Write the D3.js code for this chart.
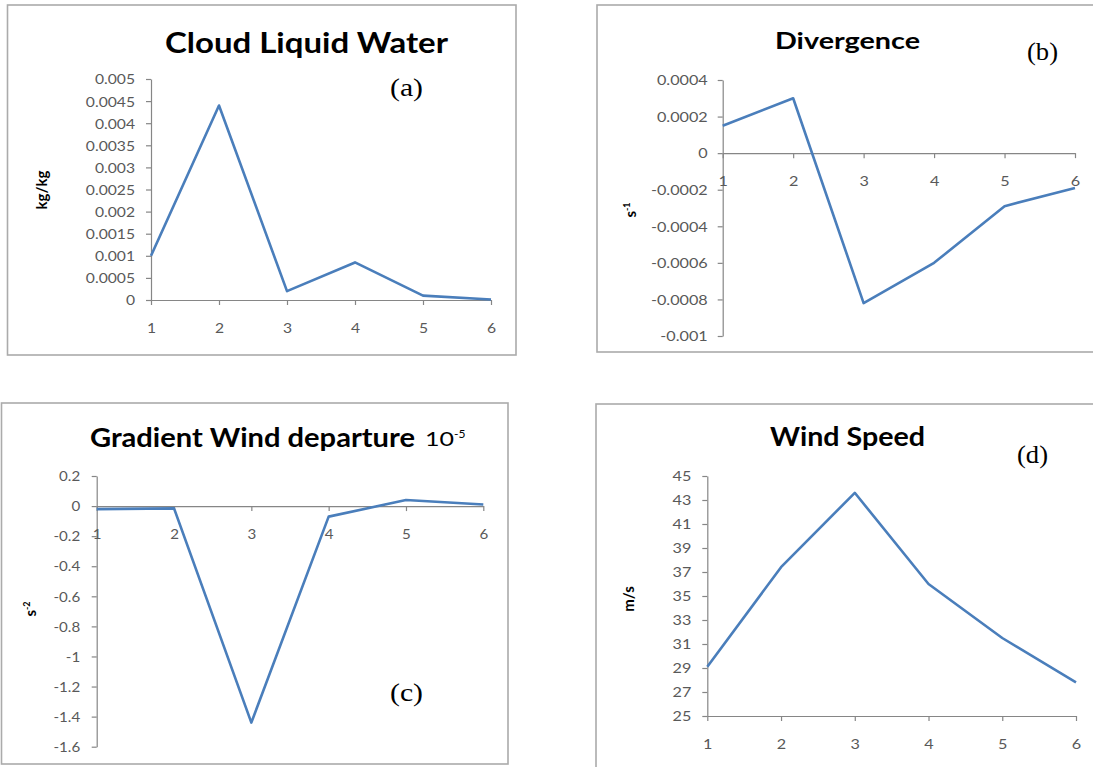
<!DOCTYPE html>
<html>
<head>
<meta charset="utf-8">
<script src="https://cdn.jsdelivr.net/npm/d3@7"></script>
<style>
  html, body { margin: 0; padding: 0; background: #fff; }
  svg { display: block; }
  .tick text { font-family: Lato, "Open Sans", sans-serif; fill: #595959; }
</style>
</head>
<body>
<svg id="chart" width="1093" height="767"></svg>
<script>
// Six sample points along the storm track
const categories = ["1", "2", "3", "4", "5", "6"];

// (a) Cloud liquid water, kg/kg
const cloudLiquidWater = [0.001, 0.0044, 0.0002, 0.00085, 0.0001, 0.00001];
const cloudTicks = [0, 0.0005, 0.001, 0.0015, 0.002, 0.0025, 0.003, 0.0035, 0.004, 0.0045, 0.005];
const cloudTickLabels = ["0", "0.0005", "0.001", "0.0015", "0.002", "0.0025", "0.003", "0.0035", "0.004", "0.0045", "0.005"];

// (b) Divergence, 1/s
const divergence = [0.00015, 0.0003, -0.00082, -0.0006, -0.00029, -0.00019];
const divergenceTicks = [0.0004, 0.0002, 0, -0.0002, -0.0004, -0.0006, -0.0008, -0.001];
const divergenceTickLabels = ["0.0004", "0.0002", "0", "-0.0002", "-0.0004", "-0.0006", "-0.0008", "-0.001"];

// (c) Gradient wind departure, 10^-5 s^-2
const gradientWindDeparture = [-0.02, -0.015, -1.44, -0.07, 0.04, 0.01];
const gradientTicks = [0.2, 0, -0.2, -0.4, -0.6, -0.8, -1, -1.2, -1.4, -1.6];
const gradientTickLabels = ["0.2", "0", "-0.2", "-0.4", "-0.6", "-0.8", "-1", "-1.2", "-1.4", "-1.6"];

// (d) Wind speed, m/s
const windSpeed = [29.1, 37.4, 43.6, 36.0, 31.5, 27.8];
const windTicks = [25, 27, 29, 31, 33, 35, 37, 39, 41, 43, 45];
const windTickLabels = ["25", "27", "29", "31", "33", "35", "37", "39", "41", "43", "45"];

const svg = d3.select("#chart");
const LINE = "#4a7ebb";
const AXIS = "#868686";
const SANS = "Lato, 'Open Sans', sans-serif";
const SERIF = "'Liberation Serif', 'Times New Roman', serif";

// Layout of each panel: frame, plot area, title and tag placement
const panels = [
  {
    values: cloudLiquidWater, ticks: cloudTicks, tickLabels: cloudTickLabels,
    frame: [7.5, 5, 516, 355],
    xRange: [151, 491], yDomain: [0, 0.005], yRange: [300, 79], xAxisAt: 0,
    title: "Cloud Liquid Water", titleX: 165, titleW: 283, titleY: 53, titleSize: 28,
    tag: "(a)", tagX: 390, tagY: 96, tagW: 33,
    unit: "kg/kg", unitSup: null, unitX: 47, unitY: 190,
    tickSize: 14, tickSx: 1.12, yGap: 16
  },
  {
    values: divergence, ticks: divergenceTicks, tickLabels: divergenceTickLabels,
    frame: [597, 5, 1100, 352],
    xRange: [722.7, 1075], yDomain: [-0.001, 0.0004], yRange: [336, 80], xAxisAt: 0,
    title: "Divergence", titleX: 775, titleW: 145, titleY: 49, titleSize: 23,
    tag: "(b)", tagX: 1027, tagY: 60, tagW: 31,
    unit: "s", unitSup: "-1", unitX: 636, unitY: 210,
    tickSize: 13.5, tickSx: 1.2, yGap: 15
  },
  {
    values: gradientWindDeparture, ticks: gradientTicks, tickLabels: gradientTickLabels,
    frame: [1.5, 403, 508, 764],
    xRange: [96.7, 483.3], yDomain: [-1.6, 0.2], yRange: [746.7, 476], xAxisAt: 0,
    title: "Gradient Wind departure", titleX: 90, titleW: 325, titleY: 446.7, titleSize: 26,
    tag: "(c)", tagX: 390, tagY: 701, tagW: 33,
    unit: "s", unitSup: "-2", unitX: 36, unitY: 609,
    tickSize: 13.5, tickSx: 1.12, yGap: 16.5
  },
  {
    values: windSpeed, ticks: windTicks, tickLabels: windTickLabels,
    frame: [596, 404, 1100, 772],
    xRange: [707.3, 1076], yDomain: [25, 45], yRange: [716, 476], xAxisAt: 25,
    title: "Wind Speed", titleX: 770, titleW: 155, titleY: 445.7, titleSize: 26,
    tag: "(d)", tagX: 1017, tagY: 463, tagW: 31,
    unit: "m/s", unitSup: null, unitX: 634, unitY: 599,
    tickSize: 13.5, tickSx: 1.2, yGap: 16
  }
];

panels.forEach(p => {
  const g = svg.append("g");

  // Chart frame
  const [fx0, fy0, fx1, fy1] = p.frame;
  g.append("rect")
    .attr("x", fx0).attr("y", fy0)
    .attr("width", fx1 - fx0).attr("height", fy1 - fy0)
    .attr("fill", "#fff").attr("stroke", "#ababab").attr("stroke-width", 1.6);

  const x = d3.scalePoint().domain(categories).range(p.xRange).padding(0);
  const y = d3.scaleLinear().domain(p.yDomain).range(p.yRange);

  // Value axis
  const yAxis = g.append("g")
    .attr("transform", `translate(${p.xRange[0]},0)`)
    .call(d3.axisLeft(y)
      .tickValues(p.ticks)
      .tickFormat((d, i) => p.tickLabels[i])
      .tickSize(5).tickSizeOuter(0));
  yAxis.select(".domain").attr("stroke", AXIS).attr("stroke-width", 1.2);
  yAxis.selectAll(".tick line").attr("stroke", AXIS).attr("stroke-width", 1.2);
  yAxis.selectAll(".tick text")
    .style("font-size", p.tickSize + "px")
    .attr("x", -p.yGap / p.tickSx)
    .attr("dy", "0.35em")
    .attr("transform", `scale(${p.tickSx},1)`);

  // Category axis, crossing the value axis at xAxisAt
  const xAxis = g.append("g")
    .attr("transform", `translate(0,${y(p.xAxisAt)})`)
    .call(d3.axisBottom(x).tickSize(5).tickSizeOuter(0));
  xAxis.select(".domain").attr("stroke", AXIS).attr("stroke-width", 1.2);
  xAxis.selectAll(".tick line").attr("stroke", AXIS).attr("stroke-width", 1.2);
  xAxis.selectAll(".tick text")
    .style("font-size", p.tickSize + "px")
    .attr("y", 28.5)
    .attr("dy", "0.35em")
    .attr("transform", `scale(${p.tickSx},1)`);

  // Data line
  const line = d3.line()
    .x((d, i) => x(categories[i]))
    .y(d => y(d));
  g.append("path")
    .datum(p.values)
    .attr("d", line)
    .attr("fill", "none")
    .attr("stroke", LINE)
    .attr("stroke-width", 2.6)
    .attr("stroke-linejoin", "round")
    .attr("stroke-linecap", "butt");

  // Title
  g.append("text")
    .attr("x", p.titleX).attr("y", p.titleY)
    .attr("textLength", p.titleW).attr("lengthAdjust", "spacingAndGlyphs")
    .style("font-family", SANS).style("font-weight", 700)
    .style("font-size", p.titleSize + "px").attr("fill", "#000")
    .text(p.title);

  // Panel tag
  g.append("text")
    .attr("x", p.tagX).attr("y", p.tagY)
    .attr("textLength", p.tagW).attr("lengthAdjust", "spacingAndGlyphs")
    .style("font-family", SERIF).style("font-size", "25px").attr("fill", "#000")
    .text(p.tag);

  // Unit label, rotated
  const u = g.append("text")
    .attr("transform", `translate(${p.unitX},${p.unitY}) rotate(-90)`)
    .attr("text-anchor", "middle")
    .style("font-family", SANS).style("font-weight", 700)
    .style("font-size", "15px").attr("fill", "#000");
  u.append("tspan").text(p.unit);
  if (p.unitSup) {
    u.append("tspan").attr("dy", -6).style("font-size", "9px").text(p.unitSup);
  }
});

// Scale factor next to the gradient wind title
const sc = svg.append("text")
  .attr("x", 425).attr("y", 446)
  .style("font-family", SANS).style("font-size", "19px").attr("fill", "#000");
sc.append("tspan").attr("textLength", 29).attr("lengthAdjust", "spacingAndGlyphs").text("10");
sc.append("tspan").attr("dy", -8).style("font-size", "12px").text("-5");
</script>
</body>
</html>
